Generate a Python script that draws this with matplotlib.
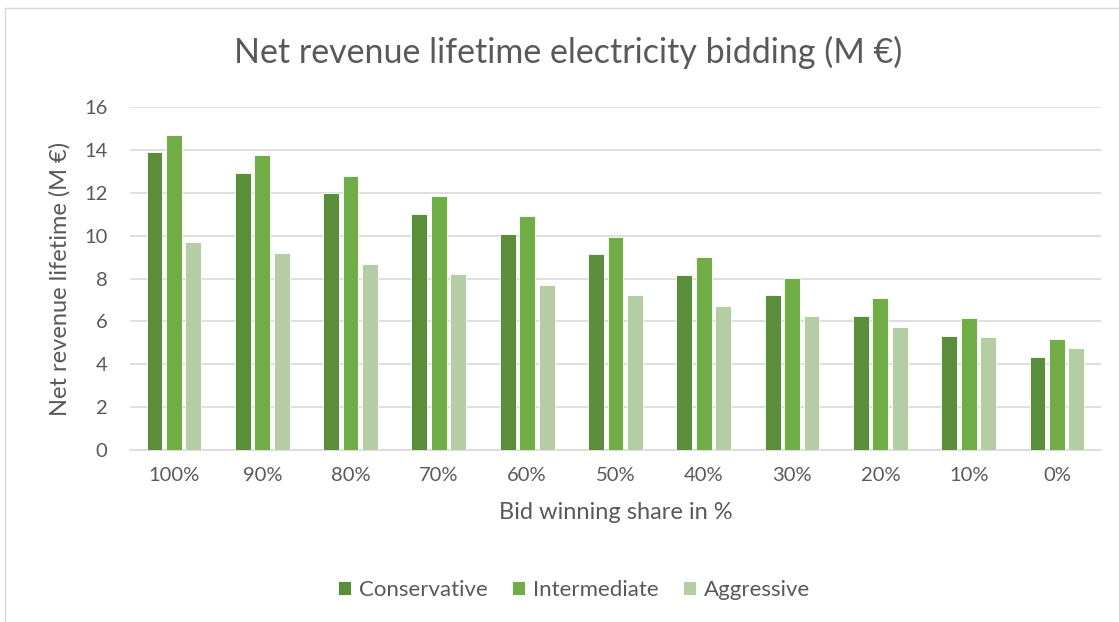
import numpy as np
import matplotlib.pyplot as plt
from matplotlib.patches import Rectangle

shares = ["100%", "90%", "80%", "70%", "60%", "50%", "40%", "30%", "20%", "10%", "0%"]
conservative = [13.88, 12.93, 11.97, 11.02, 10.07, 9.12, 8.16, 7.21, 6.25, 5.30, 4.33]
intermediate = [14.67, 13.74, 12.78, 11.84, 10.90, 9.94, 9.00, 8.04, 7.09, 6.14, 5.17]
aggressive = [9.69, 9.19, 8.68, 8.22, 7.72, 7.23, 6.73, 6.24, 5.73, 5.27, 4.75]

series = [("Conservative", conservative, "#5B8E3B"),
          ("Intermediate", intermediate, "#70AD47"),
          ("Aggressive", aggressive, "#B4CDA5")]

plt.rcParams["font.family"] = ["Lato", "DejaVu Sans"]
txt = "#595959"

fig = plt.figure(figsize=(11.19, 6.22), dpi=100)
ax = fig.add_axes([0.116, 0.2765, 0.868, 0.5515])

x = np.arange(len(shares))
w = 0.18
for i, (name, vals, col) in enumerate(series):
    ax.bar(x + (i - 1) * 0.22, vals, width=w, color=col, label=name,
           edgecolor="white", linewidth=0.6, zorder=3)

ax.set_xlim(-0.5, len(shares) - 0.5)
ax.set_ylim(0, 16)
ax.set_yticks(range(0, 17, 2))
ax.set_xticks(x)
ax.set_xticklabels(shares)
ax.grid(axis="y", color="#D9D9D9", linewidth=1.2, zorder=0)
for s in ["top", "right", "left"]:
    ax.spines[s].set_visible(False)
ax.spines["bottom"].set_color("#D9D9D9")
ax.spines["bottom"].set_linewidth(1.2)
ax.tick_params(length=0, labelsize=14.5, labelcolor=txt)
ax.tick_params(axis="x", pad=12)
ax.tick_params(axis="y", pad=16)

ax.set_xlabel("Bid winning share in %", fontsize=17, color=txt, labelpad=13)
ax.set_ylabel("Net revenue lifetime (M €)", fontsize=17, color=txt, labelpad=10)
fig.text(0.508, 0.915, "Net revenue lifetime electricity bidding (M €)",
         ha="center", va="center", fontsize=24.5, color=txt)

ax.legend(loc="center", bbox_to_anchor=(574 / 1119, 1 - 590 / 622), bbox_transform=fig.transFigure,
          ncol=3, frameon=False, fontsize=16, labelcolor=txt,
          handlelength=0.6, handleheight=0.6, handletextpad=0.35, columnspacing=1.1)

# chart area border
fig.patches.append(Rectangle((5 / 1119, -0.1), 1.2, 1 - 8 / 622 + 0.1,
                             transform=fig.transFigure, fill=False,
                             edgecolor="#D9D9D9", linewidth=1))

fig.savefig("out.png", dpi=100)
